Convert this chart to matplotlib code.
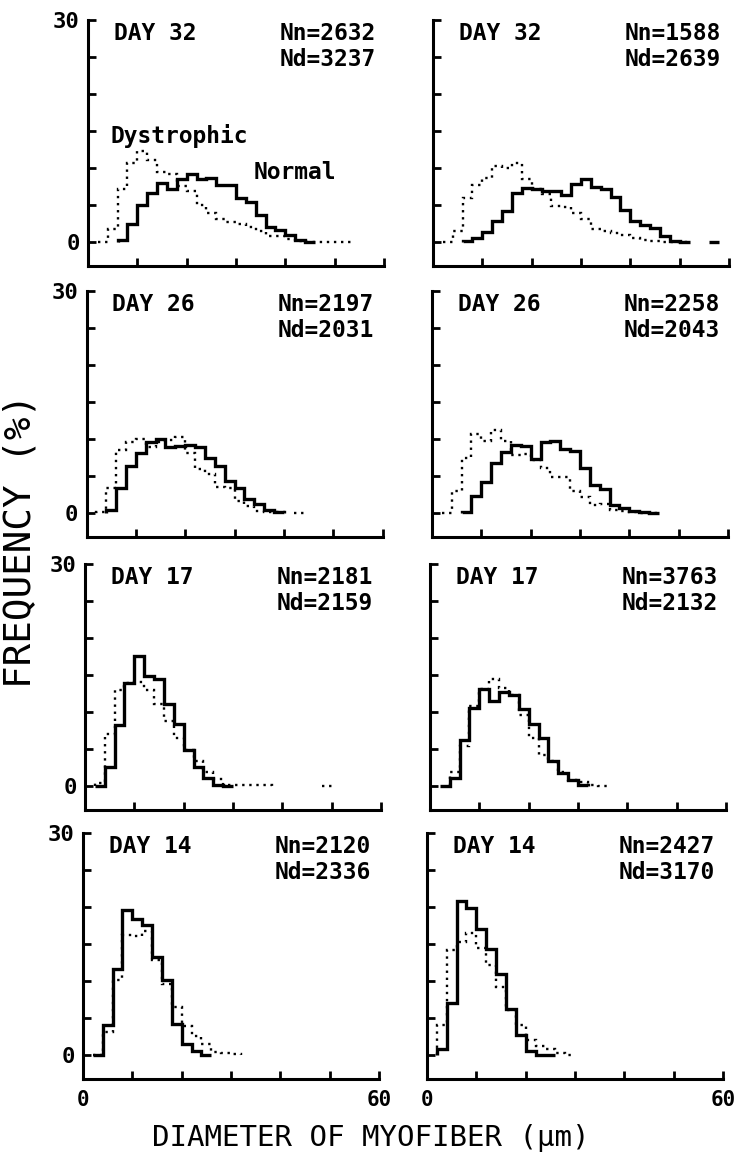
import numpy as np
import matplotlib.pyplot as plt

# Histogramas de diametro de miofibra (bins de 2 um), frequencia em %
# cada serie: primeira borda do bin + valores; nan = sem linha naquele bin
BIN = 2

day_labels = ['DAY 32', 'DAY 32', 'DAY 26', 'DAY 26', 'DAY 17', 'DAY 17', 'DAY 14', 'DAY 14']
n_normal = [2632, 1588, 2197, 2258, 2181, 3763, 2120, 2427]
n_dystro = [3237, 2639, 2031, 2043, 2159, 2132, 2336, 3170]

normal_start = [6, 6, 4, 6, 2, 2, 2, 2]
dystro_start = [2, 2, 2, 2, 2, 4, 2, 2]

normal_d32_a = [0.2, 2.4, 4.9, 6.6, 7.9, 7.1, 8.5, 9.1, 8.5, 8.6, 7.6, 7.6, 5.9, 5.3, 3.6, 2.0, 1.6, 0.9, 0.2, 0.0]
dystro_d32_a = [0.0, 1.7, 7.1, 10.6, 12.3, 11.1, 9.4, 9.1, 7.5, 6.8, 4.9, 3.9, 3.0, 2.7, 2.4, 2.0, 1.4, 0.7, 0.7, 0.3,
                0.1, 0.0, 0.0, 0.0, 0.0, 0.0]
normal_d32_b = [0.1, 0.5, 1.3, 2.8, 4.1, 6.6, 7.3, 7.1, 6.9, 6.8, 6.3, 7.8, 8.5, 7.4, 7.1, 6.1, 4.3, 2.8, 2.3, 1.9,
                0.7, 0.1, 0.0, np.nan, np.nan, 0.0]
dystro_d32_b = [0.0, 1.4, 5.9, 7.6, 8.6, 10.2, 10.0, 10.7, 8.5, 7.1, 6.5, 4.8, 4.7, 3.9, 3.1, 1.7, 1.4, 1.2, 0.9, 0.5,
                0.2, 0.1, 0.0, 0.0, 0.0]

normal_d26_a = [0.4, 3.3, 6.3, 8.1, 9.5, 9.9, 8.9, 9.0, 9.2, 8.9, 7.4, 6.3, 4.3, 3.4, 1.9, 1.1, 0.4, 0.1]
dystro_d26_a = [0.1, 3.3, 8.5, 9.5, 10.0, 8.9, 9.5, 9.8, 10.2, 8.1, 5.9, 5.2, 3.5, 3.3, 1.6, 0.9, 0.2, 0.1, 0.05,
                np.nan, 0.0]
normal_d26_b = [0.1, 2.2, 4.1, 6.7, 8.2, 9.2, 9.0, 7.3, 9.6, 9.7, 8.6, 8.3, 6.0, 3.7, 3.2, 1.0, 0.6, 0.2, 0.1, 0.0]
dystro_d26_b = [0.0, 2.9, 7.4, 10.6, 9.7, 11.2, 9.7, 7.8, 8.0, 7.1, 6.1, 4.8, 4.8, 2.9, 2.1, 1.0, 1.2, 0.3, 0.2, 0.1,
                0.0, 0.0]

normal_d17_a = [0.0, 2.5, 8.2, 13.9, 17.5, 14.9, 14.4, 11.1, 8.4, 4.8, 2.5, 1.0, 0.1, 0.0]
dystro_d17_a = [0.4, 7.0, 13.0, 13.9, 14.0, 12.9, 11.0, 8.8, 6.4, 4.8, 3.3, 1.8, 0.9, 0.1, 0.05, 0.05, 0.05, 0.05,
                np.nan, np.nan, np.nan, np.nan, np.nan, 0.0]
normal_d17_b = [0.0, 1.0, 6.2, 10.5, 13.1, 11.5, 12.7, 12.3, 10.4, 8.3, 6.4, 3.4, 1.7, 0.7, 0.1]
dystro_d17_b = [1.8, 5.3, 10.8, 13.1, 14.4, 13.2, 12.3, 9.5, 6.4, 4.1, 3.4, 1.8, 0.7, 0.5, 0.1, 0.0]

normal_d14_a = [0.0, 4.0, 11.6, 19.6, 18.3, 17.6, 13.2, 10.1, 4.2, 1.4, 0.5, 0.0]
dystro_d14_a = [0.0, 3.1, 10.1, 16.2, 16.0, 16.8, 12.8, 9.5, 6.4, 3.9, 2.5, 1.4, 0.4, 0.2, 0.1]
normal_d14_b = [0.8, 7.0, 20.8, 19.9, 17.0, 14.3, 10.9, 6.2, 2.6, 0.5, 0.0, 0.0]
dystro_d14_b = [4.0, 14.1, 15.3, 16.4, 14.4, 12.1, 9.1, 6.0, 4.0, 2.0, 1.1, 0.7, 0.2, 0.0]

normal_all = [normal_d32_a, normal_d32_b, normal_d26_a, normal_d26_b,
              normal_d17_a, normal_d17_b, normal_d14_a, normal_d14_b]
dystro_all = [dystro_d32_a, dystro_d32_b, dystro_d26_a, dystro_d26_b,
              dystro_d17_a, dystro_d17_b, dystro_d14_a, dystro_d14_b]

plt.rcParams['font.family'] = 'DejaVu Sans Mono'

W, H = 735, 1160
fig = plt.figure(figsize=(W / 100, H / 100), dpi=100)

# posicao (px) de cada painel; a figura original esta levemente inclinada
left_x = [88, 86.5, 85, 83]
right_x = [433, 432, 430, 427]
row_top = [20, 291, 564, 833]
ax_w, ax_h = 296, 246

for i in range(8):
    row, col = i // 2, i % 2
    x0 = left_x[row] if col == 0 else right_x[row]
    ax = fig.add_axes([x0 / W, 1 - (row_top[row] + ax_h) / H, ax_w / W, ax_h / H])

    vn = np.array(normal_all[i], dtype=float)
    vd = np.array(dystro_all[i], dtype=float)
    en = normal_start[i] + BIN * np.arange(len(vn) + 1)
    ed = dystro_start[i] + BIN * np.arange(len(vd) + 1)

    ax.stairs(vd, ed, baseline=0, color='k', lw=1.7, ls=(0, (1, 2.0)))
    ax.stairs(vn, en, baseline=0, color='k', lw=2.4)

    ax.set_xlim(0, 60)
    ax.set_ylim(-3.3, 30)
    for s in ['top', 'right']:
        ax.spines[s].set_visible(False)
    for s in ['left', 'bottom']:
        ax.spines[s].set_linewidth(2.2)

    ax.set_yticks(np.arange(0, 31, 5))
    ax.set_xticks(np.arange(0, 61, 10))
    if col == 0:
        ax.set_yticklabels(['0', '', '', '', '', '', '30'])
    else:
        ax.set_yticklabels([])
    if row == 3:
        ax.set_xticklabels(['0', '', '', '', '', '', '60'])
    else:
        ax.set_xticklabels([])
    ax.tick_params(direction='in', length=6, width=2, pad=6)
    ax.tick_params(axis='y', labelsize=16)
    ax.tick_params(axis='x', labelsize=15, pad=8)
    for lab in ax.get_xticklabels() + ax.get_yticklabels():
        lab.set_fontweight('bold')

    ax.text(5.2, 28.2, day_labels[i], ha='left', va='center', fontsize=16.5, fontweight='bold')
    ax.text(58.3, 28.2, f'Nn={n_normal[i]}', ha='right', va='center', fontsize=16.5, fontweight='bold')
    ax.text(58.3, 24.6, f'Nd={n_dystro[i]}', ha='right', va='center', fontsize=16.5, fontweight='bold')

    if i == 0:
        ax.text(4.5, 14.3, 'Dystrophic', ha='left', va='center', fontsize=16.5, fontweight='bold')
        ax.text(33.5, 9.3, 'Normal', ha='left', va='center', fontsize=16.5, fontweight='bold')

fig.text(0.028, 0.534, 'FREQUENCY (%)', rotation=90, ha='center', va='center', fontsize=27)
fig.text(0.505, 0.019, 'DIAMETER OF MYOFIBER (μm)', ha='center', va='center', fontsize=21)

fig.savefig('out.png', dpi=100)
